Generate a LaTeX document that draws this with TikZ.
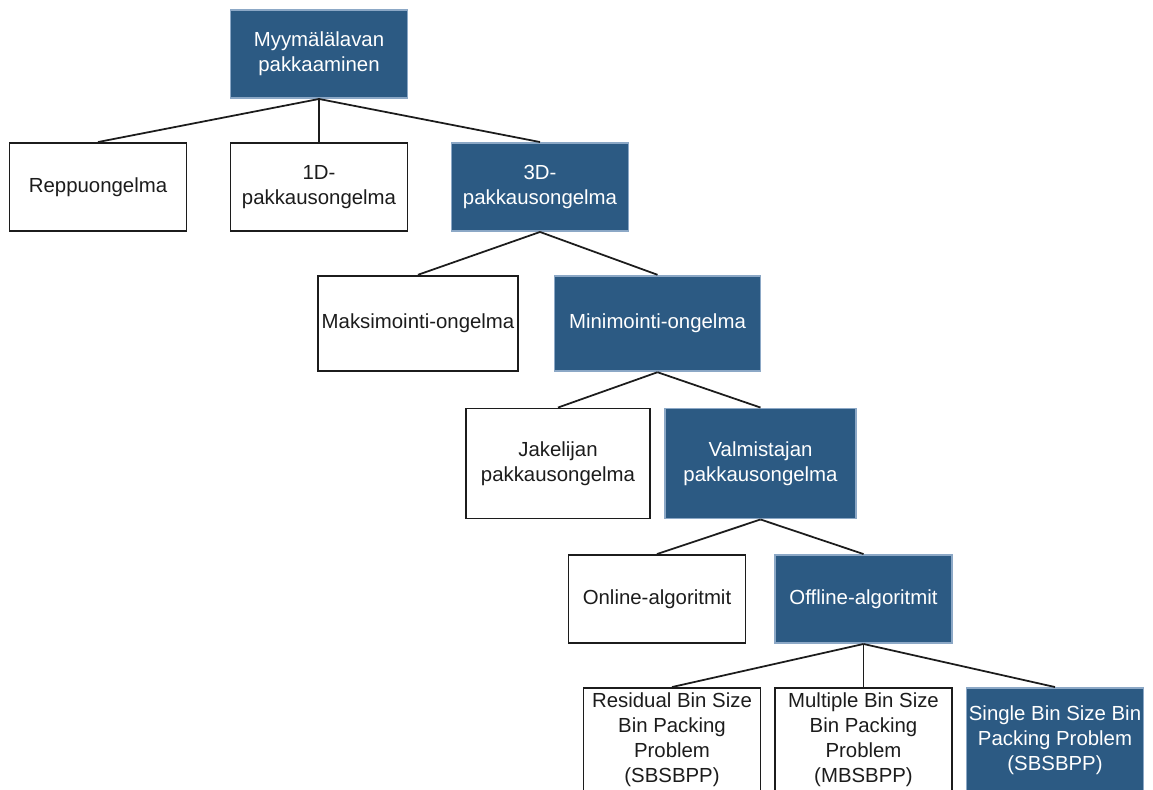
\documentclass[tikz,border=0pt]{standalone}
\usepackage{fontspec}
\setmainfont{Liberation Sans}
\usepackage{xcolor}
\usetikzlibrary{positioning,calc}

\definecolor{boxblue}{HTML}{2C5A83}
\definecolor{boxedge}{HTML}{8CA8C6}
\definecolor{inkdark}{HTML}{1C1C1C}

\begin{document}
\begin{tikzpicture}[
  box/.style={draw=inkdark, line width=1.1pt, align=center, inner sep=1pt, minimum width=3.54cm, minimum height=1.76cm, text=inkdark, font=\fontsize{11.6}{14.2}\selectfont},
  boxb/.style={box, draw=boxedge, fill=boxblue, text=white},
  line/.style={draw=inkdark, line width=1pt}
]
\useasboundingbox (0,0) rectangle (23.06,-15.78);
\clip (0,0) rectangle (23.06,-15.78);

\node[boxb] (root) at (6.38,-1.08) {Myymälälavan\\pakkaaminen};
\node[box] (repp) at (1.96,-3.74) {Reppuongelma};
\node[box] (oned) at (6.38,-3.74) {1D-\\pakkausongelma};
\node[boxb] (threed) at (10.80,-3.74) {3D-\\pakkausongelma};
\node[box, minimum width=3.99cm, minimum height=1.91cm] (maks) at (8.36,-6.47) {Maksimointi-ongelma};
\node[boxb, minimum width=4.12cm, minimum height=1.91cm] (mini) at (13.15,-6.47) {Minimointi-ongelma};
\node[box, minimum width=3.68cm, minimum height=2.20cm] (jake) at (11.16,-9.27) {Jakelijan\\pakkausongelma};
\node[boxb, minimum width=3.82cm, minimum height=2.20cm] (valm) at (15.21,-9.27) {Valmistajan\\pakkausongelma};
\node[box] (online) at (13.14,-11.98) {Online-algoritmit};
\node[boxb] (offline) at (17.27,-11.98) {Offline-algoritmit};
\node[box, minimum height=2.08cm] (rbs) at (13.44,-14.80) {Residual Bin Size\\Bin Packing\\Problem\\(SBSBPP)};
\node[box, minimum height=2.08cm] (mbs) at (17.27,-14.80) {Multiple Bin Size\\Bin Packing\\Problem\\(MBSBPP)};
\node[boxb, minimum height=2.08cm] (sbs) at (21.10,-14.80) {Single Bin Size Bin\\Packing Problem\\(SBSBPP)};

\draw[line] (root.south) -- (repp.north);
\draw[line] (root.south) -- (oned.north);
\draw[line] (root.south) -- (threed.north);
\draw[line] (threed.south) -- (maks.north);
\draw[line] (threed.south) -- (mini.north);
\draw[line] (mini.south) -- (jake.north);
\draw[line] (mini.south) -- (valm.north);
\draw[line] (valm.south) -- (online.north);
\draw[line] (valm.south) -- (offline.north);
\draw[line] (offline.south) -- (rbs.north);
\draw[line] (offline.south) -- (mbs.north);
\draw[line] (offline.south) -- (sbs.north);
\end{tikzpicture}
\end{document}
